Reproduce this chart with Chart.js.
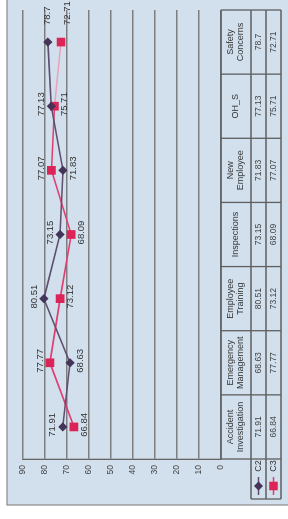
<!DOCTYPE html>
<html>
<head>
<meta charset="utf-8">
<script src="https://cdn.jsdelivr.net/npm/chart.js@4"></script>
<style>
  html, body { margin: 0; padding: 0; background: #fff; overflow: hidden; }
  #wrap {
    position: absolute; left: 0; top: 519px;
    width: 519px; height: 288px;
    transform-origin: 0 0; transform: rotate(-90deg);
  }
</style>
</head>
<body>
<div id="wrap"><canvas id="chart" width="519" height="288"></canvas></div>
<script>
const categories = [
  ["Accident", "Investigation"],
  ["Emergency", "Management"],
  ["Employee", "Training"],
  ["Inspections"],
  ["New", "Employee"],
  ["OH_S"],
  ["Safety", "Concerns"]
];
const c2Values = [71.91, 68.63, 80.51, 73.15, 71.83, 77.13, 78.7];
const c3Values = [66.84, 77.77, 73.12, 68.09, 77.07, 75.71, 72.71];
const valueTicks = [0, 10, 20, 30, 40, 50, 60, 70, 80, 90];

const FONT = "'Liberation Sans', Arial, sans-serif";
const canvas = document.getElementById("chart");
const ctx = canvas.getContext("2d");

const fmt = v => String(v);

// light blue panel behind everything
const panelPlugin = {
  id: "panel",
  beforeDraw(chart) {
    const c = chart.ctx;
    c.save();
    c.fillStyle = "#d2dfec";
    c.fillRect(14, 7, 510, 290);
    c.strokeStyle = "#8a8a8a";
    c.lineWidth = 1.2;
    c.strokeRect(14, 7, 510, 290);
    c.restore();
  }
};

// value labels next to the points
const labelPlugin = {
  id: "valueLabels",
  afterDatasetsDraw(chart) {
    const c = chart.ctx;
    const m2 = chart.getDatasetMeta(0).data;
    const m3 = chart.getDatasetMeta(1).data;
    c.save();
    c.font = "9.5px " + FONT;
    c.fillStyle = "#333";
    c.textBaseline = "middle";
    for (let i = 0; i < categories.length; i++) {
      const pts = [[m2[i], c2Values[i]], [m3[i], c3Values[i]]];
      const hi = c2Values[i] >= c3Values[i] ? 0 : 1;
      pts.forEach(([p, v], k) => {
        if (i === categories.length - 1) {
          c.textAlign = "left";
          c.fillText(fmt(v), p.x + 17, p.y + (k === 0 ? 0 : 6));
        } else {
          c.textAlign = "center";
          c.fillText(fmt(v), p.x + 2, k === hi ? p.y - 10 : p.y + 10);
        }
      });
    }
    c.restore();
  }
};

// data table under the plot
const tablePlugin = {
  id: "dataTable",
  afterDraw(chart) {
    const c = chart.ctx;
    const xs = chart.scales.x;
    const top = chart.scales.y.getPixelForValue(0);
    const rows = [top, top + 30, top + 45, top + 60];
    const left = xs.getPixelForValue(-0.5);
    const right = xs.getPixelForValue(categories.length - 0.5);
    const legLeft = 20;
    c.save();
    c.strokeStyle = "#5f5f5f";
    c.lineWidth = 1.3;
    c.beginPath();
    c.moveTo(left, rows[0]); c.lineTo(right, rows[0]);
    for (let r = 1; r < rows.length; r++) {
      c.moveTo(legLeft, rows[r]); c.lineTo(right, rows[r]);
    }
    for (let i = 0; i <= categories.length; i++) {
      const x = xs.getPixelForValue(i - 0.5);
      c.moveTo(x, rows[0]); c.lineTo(x, rows[3]);
    }
    c.moveTo(legLeft, rows[1]); c.lineTo(legLeft, rows[3]);
    c.stroke();

    c.fillStyle = "#333";
    c.textAlign = "center";
    c.textBaseline = "middle";
    c.font = "9px " + FONT;
    const mid = (rows[0] + rows[1]) / 2;
    categories.forEach((lines, i) => {
      const x = xs.getPixelForValue(i);
      lines.forEach((t, j) => {
        c.fillText(t, x, mid + (j - (lines.length - 1) / 2) * 10);
      });
    });
    c.font = "8.5px " + FONT;
    c.fillStyle = "#444";
    categories.forEach((_, i) => {
      const x = xs.getPixelForValue(i);
      c.fillText(fmt(c2Values[i]), x, (rows[1] + rows[2]) / 2);
      c.fillText(fmt(c3Values[i]), x, (rows[2] + rows[3]) / 2);
    });

    // legend keys
    chart.data.datasets.forEach((ds, k) => {
      const y = (rows[k + 1] + rows[k + 2]) / 2;
      c.strokeStyle = ds.borderColor;
      c.lineWidth = 1.5;
      c.beginPath(); c.moveTo(24, y); c.lineTo(42, y); c.stroke();
      c.fillStyle = ds.pointBackgroundColor;
      c.strokeStyle = ds.pointBackgroundColor;
      Chart.helpers.drawPoint(c, {pointStyle: ds.pointStyle, radius: ds.pointRadius, rotation: 0, borderWidth: 1}, 33, y);
      c.fillStyle = "#333";
      c.font = "9px " + FONT;
      c.fillText(ds.label, 53, y);
    });
    c.restore();
  }
};

new Chart(ctx, {
  type: "line",
  data: {
    labels: categories,
    datasets: [
      {
        label: "C2",
        data: c2Values,
        borderColor: "#5e4e70",
        borderWidth: 1.6,
        pointStyle: "rectRot",
        pointRadius: 3.5,
        pointBackgroundColor: "#45345a",
        pointBorderColor: "#45345a"
      }, {
        label: "C3",
        data: c3Values,
        borderColor: "#e23d72",
        borderWidth: 1.6,
        pointStyle: "rect",
        pointRadius: 5,
        pointBackgroundColor: "#dc2458",
        pointBorderColor: "#dc2458",
        segment: {
          borderColor: s => s.p1DataIndex === categories.length - 1 ? "#eea0b8" : undefined
        }
      }
    ]
  },
  options: {
    responsive: false,
    animation: false,
    layout: {padding: {left: 0, right: 10, top: 23, bottom: 67}},
    plugins: {
      legend: {display: false},
      tooltip: {enabled: false}
    },
    scales: {
      x: {
        type: "category",
        offset: true,
        display: false
      },
      y: {
        min: 0,
        max: 90,
        afterBuildTicks: s => { s.ticks = valueTicks.map(v => ({value: v})); },
        afterFit: s => { s.width = 60; },
        ticks: {
          color: "#444",
          font: {size: 8.5, family: FONT},
          padding: 6
        },
        grid: {color: "#7e7e7e", lineWidth: 1.6, drawTicks: false},
        border: {display: true, color: "#666", width: 1.3}
      }
    }
  },
  plugins: [panelPlugin, labelPlugin, tablePlugin]
});
</script>
</body>
</html>
